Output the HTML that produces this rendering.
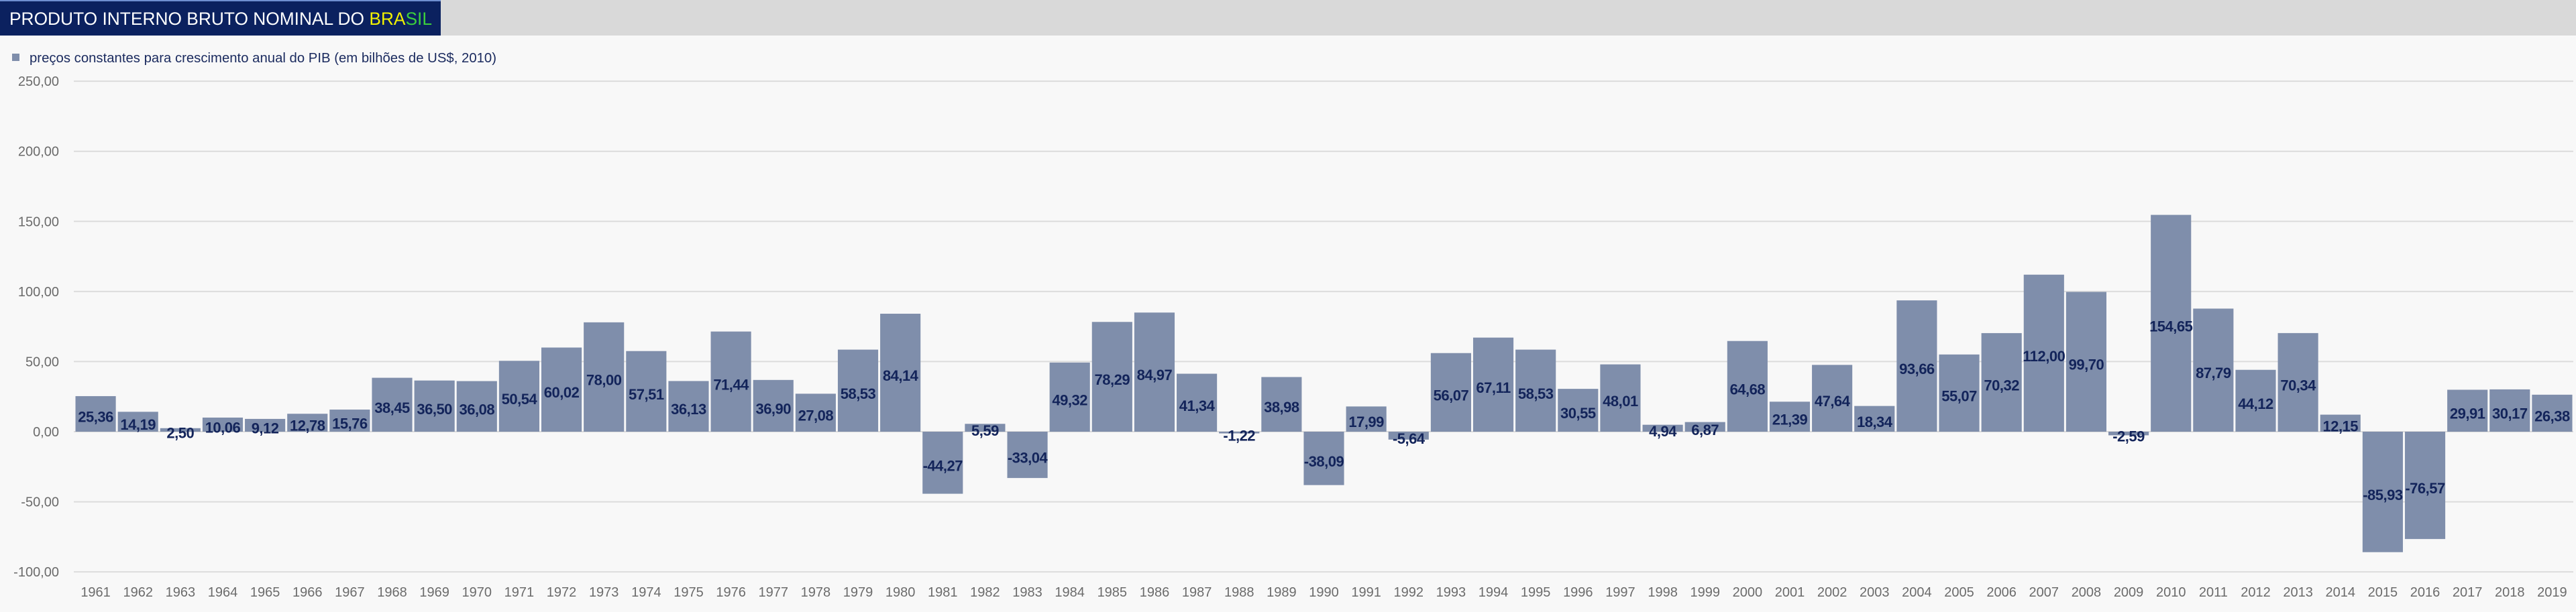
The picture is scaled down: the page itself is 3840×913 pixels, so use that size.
<!DOCTYPE html>
<html><head><meta charset="utf-8">
<style>
html,body{margin:0;padding:0;background:#f8f8f8;}
body{width:3840px;height:913px;overflow:hidden;position:relative;font-family:"Liberation Sans",sans-serif;}
</style></head>
<body>
<svg id="c" width="3840" height="913" xmlns="http://www.w3.org/2000/svg" style="position:absolute;left:0;top:0">
<rect x="0" y="0" width="3840" height="53" fill="#d9d9d9"/>
<rect x="0" y="0" width="657" height="53" fill="#0b215f"/>
<rect x="0" y="0" width="657" height="2" fill="#6f8fd0"/>
<text x="14" y="37" font-size="27" fill="#ffffff" textLength="630" lengthAdjust="spacingAndGlyphs">PRODUTO INTERNO BRUTO NOMINAL DO <tspan fill="#f2f200">BRA</tspan><tspan fill="#3ccf3c">SIL</tspan></text>
<rect x="18" y="80" width="11" height="11" fill="#7f8eab"/>
<text x="44" y="93" font-size="20" fill="#1a2a5e" textLength="696" lengthAdjust="spacingAndGlyphs">preços constantes para crescimento anual do PIB (em bilhões de US$, 2010)</text>
<g id="g"></g>
</svg>
<script>
(function(){
var vals=[25.36,14.19,2.50,10.06,9.12,12.78,15.76,38.45,36.50,36.08,50.54,60.02,78.00,57.51,36.13,71.44,36.90,27.08,58.53,84.14,-44.27,5.59,-33.04,49.32,78.29,84.97,41.34,-1.22,38.98,-38.09,17.99,-5.64,56.07,67.11,58.53,30.55,48.01,4.94,6.87,64.68,21.39,47.64,18.34,93.66,55.07,70.32,112.00,99.70,-2.59,154.65,87.79,44.12,70.34,12.15,-85.93,-76.57,29.91,30.17,26.38];
var k=732/350, z=644, L=111, R=3836, p=(R-L)/59, s='';
function yv(v){return z-v*k;}
for(var t=250;t>=-100;t-=50){
 var yy=yv(t);
 s+='<line x1="110" x2="3836" y1="'+yy+'" y2="'+yy+'" stroke="#dcdcdc" stroke-width="2"/>';
 s+='<text x="88" y="'+(yy+7)+'" font-size="20" fill="#6b6b6b" text-anchor="end">'+t.toFixed(2).replace('.',',')+'</text>';
}
for(var i=0;i<59;i++){
 var v=vals[i], bx=L+i*p+1.5, by=Math.min(yv(v),z), bh=Math.abs(v*k), cx=L+(i+0.5)*p;
 s+='<rect x="'+bx+'" y="'+by+'" width="'+(p-3)+'" height="'+bh+'" fill="#7f8eab"/>';
 var ly=(yv(v)+z)/2+12;
 s+='<text x="'+cx+'" y="'+ly+'" font-size="22" font-weight="bold" fill="#13245a" text-anchor="middle" letter-spacing="-0.5">'+v.toFixed(2).replace('.',',')+'</text>';
 s+='<text x="'+cx+'" y="890" font-size="20" fill="#6b6b6b" text-anchor="middle">'+(1961+i)+'</text>';
}
document.getElementById('g').innerHTML=s;
})();
</script>
</body></html>
